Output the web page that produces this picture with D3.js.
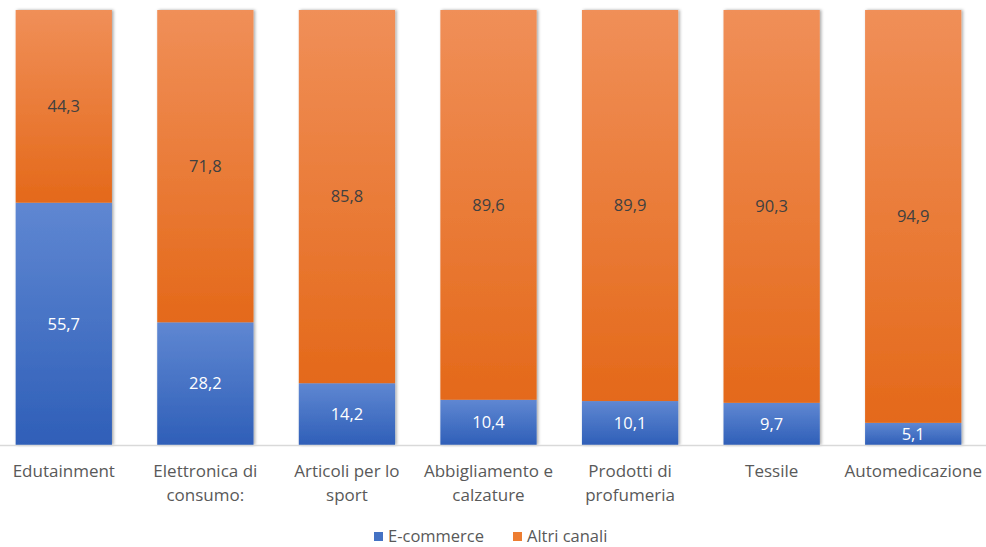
<!DOCTYPE html>
<html>
<head>
<meta charset="utf-8">
<script src="https://cdn.jsdelivr.net/npm/d3@7"></script>
<style>
  html, body { margin: 0; padding: 0; background: #fff; }
  svg { display: block; font-family: "Open Sans", Lato, sans-serif; }
</style>
</head>
<body>
<svg id="chart" width="986" height="547"></svg>
<script>
// Quote di vendita per canale (%)
const categories = [
  ["Edutainment"],
  ["Elettronica di", "consumo:"],
  ["Articoli per lo", "sport"],
  ["Abbigliamento e", "calzature"],
  ["Prodotti di", "profumeria"],
  ["Tessile"],
  ["Automedicazione"]
];
const ecommerce = [55.7, 28.2, 14.2, 10.4, 10.1, 9.7, 5.1];
const altriCanali = [44.3, 71.8, 85.8, 89.6, 89.9, 90.3, 94.9];
const seriesNames = ["E-commerce", "Altri canali"];

const svg = d3.select("#chart");
const defs = svg.append("defs");

function grad(id, top, bottom) {
  const g = defs.append("linearGradient").attr("id", id)
    .attr("x1", 0).attr("y1", 0).attr("x2", 0).attr("y2", 1);
  g.append("stop").attr("offset", "0%").attr("stop-color", top);
  g.append("stop").attr("offset", "100%").attr("stop-color", bottom);
}
grad("gBlue", "#5f87d2", "#2f5fb8");
grad("gOrange", "#f08f58", "#e4691a");

const shadow = defs.append("filter").attr("id", "shadow")
  .attr("x", "-20%").attr("y", "-5%").attr("width", "140%").attr("height", "110%");
shadow.append("feDropShadow").attr("dx", 1.5).attr("dy", 0).attr("stdDeviation", 1.5)
  .attr("flood-color", "#000").attr("flood-opacity", 0.35);

const x = d3.scaleBand()
  .domain(d3.range(categories.length))
  .range([-7, 984])
  .paddingInner(0.32)
  .paddingOuter(0.16);

const y = d3.scaleLinear().domain([0, 100]).range([445, 10]);

const rows = categories.map((c, i) => ({ i, e: ecommerce[i], a: altriCanali[i] }));

const gBars = svg.append("g");
rows.forEach(r => {
  const g = gBars.append("g").attr("filter", "url(#shadow)");
  g.append("rect")
    .attr("x", x(r.i)).attr("width", x.bandwidth())
    .attr("y", y(r.e)).attr("height", y(0) - y(r.e))
    .attr("fill", "url(#gBlue)");
  g.append("rect")
    .attr("x", x(r.i)).attr("width", x.bandwidth())
    .attr("y", y(r.e + r.a)).attr("height", y(r.e) - y(r.e + r.a))
    .attr("fill", "url(#gOrange)");
});

// baseline
svg.append("line")
  .attr("x1", 0).attr("x2", 986)
  .attr("y1", y(0) + 0.5).attr("y2", y(0) + 0.5)
  .attr("stroke", "#d9d9d9").attr("stroke-width", 1.5);

const fmt = v => d3.format(".1f")(v).replace(".", ",");

// value labels
const gLab = svg.append("g").attr("font-size", 16.5).attr("text-anchor", "middle");
rows.forEach(r => {
  const cx = x(r.i) + x.bandwidth() / 2;
  gLab.append("text")
    .attr("x", cx).attr("y", (y(0) + y(r.e)) / 2).attr("dy", "0.35em")
    .attr("fill", "#ffffff").text(fmt(r.e));
  gLab.append("text")
    .attr("x", cx).attr("y", (y(r.e) + y(r.e + r.a)) / 2).attr("dy", "0.35em")
    .attr("fill", "#404040").text(fmt(r.a));
});

// category labels
const gCat = svg.append("g").attr("font-size", 17).attr("fill", "#595959").attr("text-anchor", "middle");
categories.forEach((lines, i) => {
  const t = gCat.append("text").attr("x", x(i) + x.bandwidth() / 2).attr("y", 477);
  lines.forEach((ln, k) => {
    t.append("tspan").attr("x", x(i) + x.bandwidth() / 2).attr("dy", k === 0 ? 0 : 24).text(ln);
  });
});

// legend
const legend = svg.append("g").attr("font-size", 16.5).attr("fill", "#595959");
const legendItems = [
  { name: seriesNames[0], color: "#4472c4", x: 374 },
  { name: seriesNames[1], color: "#ed7d31", x: 513 }
];
legendItems.forEach(it => {
  legend.append("rect").attr("x", it.x).attr("y", 532).attr("width", 9).attr("height", 9).attr("fill", it.color);
  legend.append("text").attr("x", it.x + 14).attr("y", 541.5).text(it.name);
});
</script>
</body>
</html>
